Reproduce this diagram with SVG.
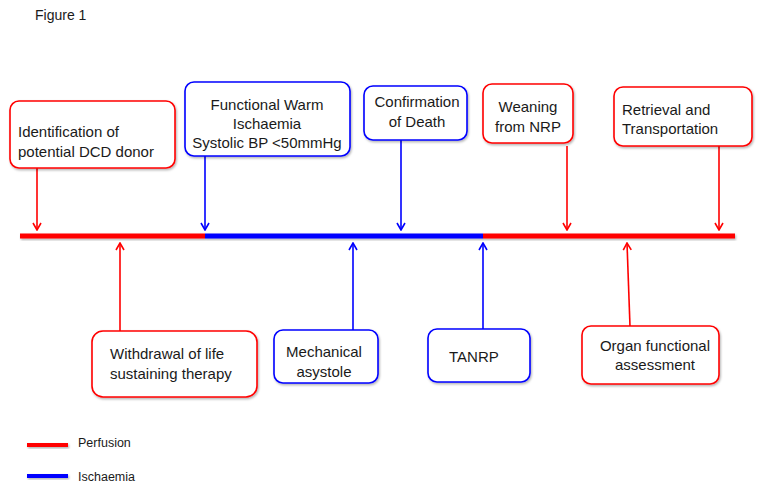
<svg xmlns="http://www.w3.org/2000/svg" width="757" height="495" viewBox="0 0 757 495">
<style>
text{font-family:"Liberation Sans",Arial,sans-serif;fill:#1a1a1a}
.t{font-size:15px}
.c{text-anchor:middle}
.box{fill:#fff;stroke-width:1.6;filter:url(#sh)}
.r{stroke:#ff0000}
.b{stroke:#0000ff}
.fr{fill:#ff0000;filter:url(#sh)}
.fb{fill:#0000ff;filter:url(#sh)}
.arr{fill:none;stroke-width:1.6}
</style>
<defs>
<filter id="sh" x="-10%" y="-50%" width="120%" height="200%">
<feDropShadow dx="1" dy="1.5" stdDeviation="1" flood-color="#000" flood-opacity="0.3"/>
</filter>
<marker id="ar" viewBox="0 0 10 10" refX="9" refY="5" markerWidth="10" markerHeight="10" markerUnits="userSpaceOnUse" orient="auto">
<path d="M2,1 L9,5 L2,9" fill="none" stroke="#ff0000" stroke-width="1.6"/>
</marker>
<marker id="ab" viewBox="0 0 10 10" refX="9" refY="5" markerWidth="10" markerHeight="10" markerUnits="userSpaceOnUse" orient="auto">
<path d="M2,1 L9,5 L2,9" fill="none" stroke="#0000ff" stroke-width="1.6"/>
</marker>
</defs>
<rect width="757" height="495" fill="#fff"/>
<text x="35" y="20" style="font-size:14px">Figure 1</text>

<g id="timeline">
<rect class="fr" x="20" y="233.5" width="185" height="5"/>
<rect class="fb" x="205" y="233.5" width="278" height="5"/>
<rect class="fr" x="483" y="233.5" width="252" height="5"/>
</g>

<g id="connectors">
<line class="arr r" x1="37" y1="168" x2="37" y2="230" marker-end="url(#ar)"/>
<line class="arr b" x1="205" y1="156" x2="205" y2="230" marker-end="url(#ab)"/>
<line class="arr b" x1="401" y1="140" x2="401" y2="230" marker-end="url(#ab)"/>
<line class="arr r" x1="567" y1="146" x2="567" y2="230" marker-end="url(#ar)"/>
<line class="arr r" x1="719" y1="146" x2="719" y2="230" marker-end="url(#ar)"/>
<line class="arr r" x1="120" y1="331" x2="120" y2="243" marker-end="url(#ar)"/>
<line class="arr b" x1="353" y1="330" x2="353" y2="243" marker-end="url(#ab)"/>
<line class="arr b" x1="483" y1="329" x2="483" y2="243" marker-end="url(#ab)"/>
<line class="arr r" x1="630" y1="326" x2="627" y2="243" marker-end="url(#ar)"/>
</g>

<g id="identification">
<rect class="box r" x="10" y="101" width="165" height="67" rx="9"/>
<text class="t" x="18" y="137">Identification of</text>
<text class="t" x="18" y="157">potential DCD donor</text>
</g>
<g id="functional-warm">
<rect class="box b" x="185" y="82" width="165" height="74" rx="9"/>
<text class="t c" x="267" y="110">Functional Warm</text>
<text class="t c" x="267" y="129">Ischaemia</text>
<text class="t c" x="267" y="148">Systolic BP &lt;50mmHg</text>
</g>
<g id="confirmation">
<rect class="box b" x="364" y="86" width="103" height="54" rx="9"/>
<text class="t c" x="417" y="107">Confirmation</text>
<text class="t c" x="417" y="127">of Death</text>
</g>
<g id="weaning">
<rect class="box r" x="483" y="84" width="90" height="59" rx="9"/>
<text class="t c" x="528" y="112">Weaning</text>
<text class="t c" x="528" y="132">from NRP</text>
</g>
<g id="retrieval">
<rect class="box r" x="614" y="87" width="138" height="59" rx="9"/>
<text class="t" x="622" y="115">Retrieval and</text>
<text class="t" x="622" y="134">Transportation</text>
</g>
<g id="withdrawal">
<rect class="box r" x="92" y="331" width="165" height="66" rx="11"/>
<text class="t" x="110" y="359">Withdrawal of life</text>
<text class="t" x="110" y="379">sustaining therapy</text>
</g>
<g id="mechanical">
<rect class="box b" x="274" y="330" width="104" height="53" rx="9"/>
<text class="t c" x="324" y="357">Mechanical</text>
<text class="t c" x="324" y="377">asystole</text>
</g>
<g id="tanrp">
<rect class="box b" x="428" y="329" width="102" height="53" rx="9"/>
<text class="t" x="449" y="362">TANRP</text>
</g>
<g id="organ">
<rect class="box r" x="582" y="326" width="137" height="58" rx="9"/>
<text class="t c" x="655" y="351">Organ functional</text>
<text class="t c" x="655" y="370">assessment</text>
</g>

<g id="legend">
<rect class="fr" x="27" y="443" width="41" height="4"/>
<text x="78" y="447" style="font-size:12.5px">Perfusion</text>
<rect class="fb" x="27" y="474" width="41" height="4"/>
<text x="78" y="481" style="font-size:12.5px">Ischaemia</text>
</g>
</svg>
